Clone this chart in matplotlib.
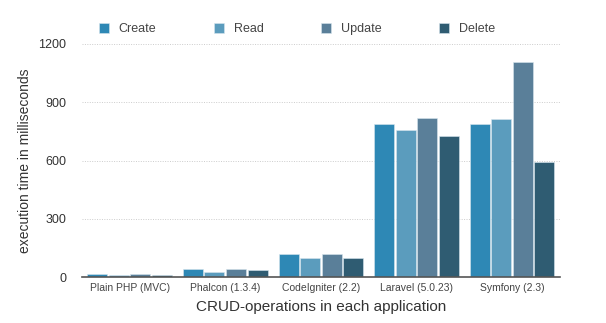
import matplotlib
matplotlib.use("Agg")
import matplotlib.pyplot as plt
import numpy as np

plt.rcParams['font.family'] = ['Liberation Sans', 'DejaVu Sans']

categories = ["Plain PHP (MVC)", "Phalcon (1.3.4)", "CodeIgniter (2.2)", "Laravel (5.0.23)", "Symfony (2.3)"]
series_names = ["Create", "Read", "Update", "Delete"]
create = [17, 43, 117, 786, 786]
read = [10, 26, 100, 757, 812]
update = [15, 43, 117, 817, 1109]
delete = [9, 36, 100, 726, 591]
colors = ["#2e88b5", "#5b9cbd", "#5a7f99", "#2f5c72"]
yticks = [0, 300, 600, 900, 1200]

fig = plt.figure(figsize=(6.06, 3.23), dpi=100)
ax = fig.add_axes([0.135, 0.142, 0.789, 0.722])

x = np.arange(len(categories))
w = 0.225
for i, (name, vals) in enumerate(zip(series_names, [create, read, update, delete])):
    ax.bar(x + (i - 1.5) * w, vals, width=w * 0.93, color=colors[i], label=name,
           edgecolor="#d8e6ee", linewidth=0.4, zorder=3)

ax.set_xlim(-0.5, len(categories) - 0.5)
ax.set_ylim(0, 1200)
ax.set_yticks(yticks)
ax.set_yticklabels([str(t) for t in yticks], fontsize=9, color="#333333")
ax.set_xticks(x)
ax.set_xticklabels(categories, fontsize=7.5, color="#444444")
ax.tick_params(axis='y', length=0, pad=11)
ax.tick_params(axis='x', length=0, pad=4)
ax.grid(axis='y', linestyle=(0, (1, 1.5)), color="#cccccc", linewidth=0.7, zorder=0)
for s in ['top', 'right', 'left']:
    ax.spines[s].set_visible(False)
ax.spines['bottom'].set_color("#555555")
ax.spines['bottom'].set_linewidth(1.2)
ax.spines['bottom'].set_zorder(4)

ax.set_ylabel("execution time in milliseconds", fontsize=10, color="#333333", labelpad=5)
ax.set_xlabel("CRUD-operations in each application", fontsize=11, color="#333333", labelpad=5)

leg = ax.legend(loc='lower left', bbox_to_anchor=(0.025, 1.015), ncol=4, frameon=False,
                fontsize=9, handlelength=0.8, handleheight=0.8, columnspacing=4.6,
                handletextpad=0.8, borderaxespad=0)
for t in leg.get_texts():
    t.set_color("#444444")

fig.savefig("out.png", dpi=100)
